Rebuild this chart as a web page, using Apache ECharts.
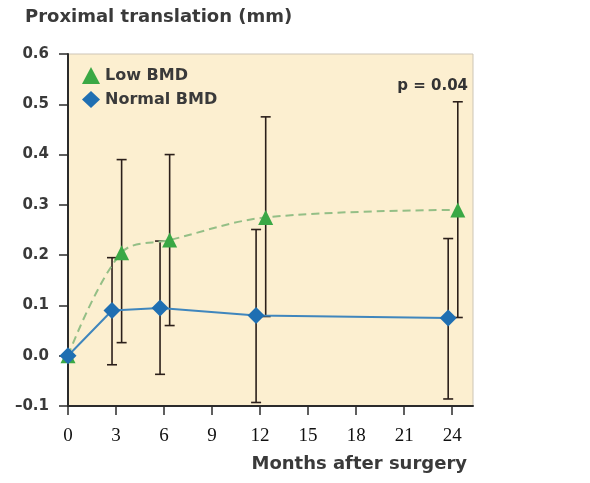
<!DOCTYPE html>
<html>
<head>
<meta charset="utf-8">
<script src="https://cdn.jsdelivr.net/npm/echarts@6/dist/echarts.min.js"></script>
<style>
  html, body { margin: 0; padding: 0; background: #fff; }
  #chart { width: 590px; height: 483px; }
</style>
</head>
<body>
<div id="chart"></div>
<script>
// months after surgery
const months = [0, 3, 6, 12, 24]
const xTicks = [0, 3, 6, 9, 12, 15, 18, 21, 24]

// Low BMD: mean and error bar ends
const lowMean = [0.0, 0.205, 0.23, 0.275, 0.29]
const lowUpper = [0.0, 0.39, 0.40, 0.475, 0.505]
const lowLower = [0.0, 0.026, 0.06, 0.078, 0.076]

// Normal BMD: mean and error bar ends
const normalMean = [0.0, 0.09, 0.095, 0.08, 0.075]
const normalUpper = [0.0, 0.195, 0.228, 0.251, 0.233]
const normalLower = [0.0, -0.018, -0.037, -0.093, -0.086]

const yTicks = [-0.1, 0.0, 0.1, 0.2, 0.3, 0.4, 0.5, 0.6]

const boldFont = '"DejaVu Sans", Verdana, sans-serif'

// small horizontal dodge so the two groups don't overlap
function dodge(m, d) { return m === 0 ? m : m + d }

function errorSeries(name, upper, lower, d) {
  return {
    name: name + ' err',
    type: 'custom',
    z: 1,
    silent: true,
    data: months.map((m, i) => [dodge(m, d), lower[i], upper[i]]),
    renderItem: (params, api) => {
      if (api.value(1) === api.value(2)) return null
      const lo = api.coord([api.value(0), api.value(1)])
      const hi = api.coord([api.value(0), api.value(2)])
      const w = 5
      const style = { stroke: '#2b1f1a', lineWidth: 1.6 }
      return {
        type: 'group',
        children: [
          { type: 'line', shape: { x1: lo[0], y1: lo[1], x2: hi[0], y2: hi[1] }, style },
          { type: 'line', shape: { x1: lo[0] - w, y1: lo[1], x2: lo[0] + w, y2: lo[1] }, style },
          { type: 'line', shape: { x1: hi[0] - w, y1: hi[1], x2: hi[0] + w, y2: hi[1] }, style }
        ]
      }
    }
  }
}

const chart = echarts.init(document.getElementById('chart'))
chart.setOption({
  animation: false,
  backgroundColor: '#ffffff',
  grid: {
    left: 68, top: 54, right: 117, bottom: 77,
    show: true,
    backgroundColor: '#fcefd0',
    borderColor: '#cdc5b6',
    borderWidth: 1
  },
  legend: {
    orient: 'vertical',
    left: 82,
    top: 67,
    padding: 0,
    itemWidth: 18,
    itemHeight: 17,
    itemGap: 7,
    data: [
      { name: 'Low BMD', icon: 'triangle' },
      { name: 'Normal BMD', icon: 'diamond' }
    ],
    textStyle: {
      fontFamily: boldFont,
      fontWeight: 'bold',
      fontSize: 16,
      color: '#3a3a3a'
    }
  },
  xAxis: {
    type: 'value',
    min: 0,
    max: 25.3,
    interval: 3,
    splitLine: { show: false },
    axisLine: { onZero: false, lineStyle: { color: '#2b2b2b', width: 2 } },
    axisTick: { show: true, length: 9, customValues: xTicks, lineStyle: { color: '#2b2b2b', width: 1.5 } },
    axisLabel: {
      customValues: xTicks,
      margin: 21,
      fontFamily: 'Liberation Serif, Times New Roman, serif',
      fontSize: 19,
      color: '#111'
    }
  },
  yAxis: {
    type: 'value',
    min: -0.1,
    max: 0.6,
    interval: 0.1,
    splitLine: { show: false },
    axisLine: { show: true, onZero: false, lineStyle: { color: '#2b2b2b', width: 2 } },
    axisTick: { show: true, length: 9, lineStyle: { color: '#2b2b2b', width: 1.5 } },
    axisLabel: {
      customValues: yTicks,
      formatter: v => {
        const s = Math.abs(v).toFixed(1)
        return v < -1e-9 ? '\u2013' + s : s
      },
      margin: 19,
      fontFamily: boldFont,
      fontWeight: 'bold',
      fontSize: 15,
      color: '#3a3a3a'
    }
  },
  graphic: [
    {
      type: 'text', left: 25, top: 8,
      style: {
        text: 'Proximal translation (mm)',
        font: 'bold 18px "DejaVu Sans", Verdana, sans-serif',
        fill: '#3a3a3a'
      }
    },
    {
      type: 'text', right: 122, top: 79,
      style: {
        text: 'p = 0.04',
        font: 'bold 15px "DejaVu Sans", Verdana, sans-serif',
        fill: '#333'
      }
    },
    {
      type: 'text', right: 123, top: 455,
      style: {
        text: 'Months after surgery',
        font: 'bold 18px "DejaVu Sans", Verdana, sans-serif',
        fill: '#3a3a3a'
      }
    }
  ],
  series: [
    errorSeries('Normal BMD', normalUpper, normalLower, -0.25),
    errorSeries('Low BMD', lowUpper, lowLower, 0.35),
    {
      name: 'Low BMD',
      type: 'line',
      z: 3,
      smooth: 0.35,
      symbol: 'triangle',
      symbolSize: 15,
      data: months.map((m, i) => [dodge(m, 0.35), lowMean[i]]),
      itemStyle: { color: '#3aa845' },
      lineStyle: { color: '#94bf86', width: 2, type: [8, 5] }
    },
    {
      name: 'Normal BMD',
      type: 'line',
      z: 4,
      symbol: 'diamond',
      symbolSize: 17,
      data: months.map((m, i) => [dodge(m, -0.25), normalMean[i]]),
      itemStyle: { color: '#1f6fb2' },
      lineStyle: { color: '#3f86bd', width: 2 }
    }
  ]
})
</script>
</body>
</html>
